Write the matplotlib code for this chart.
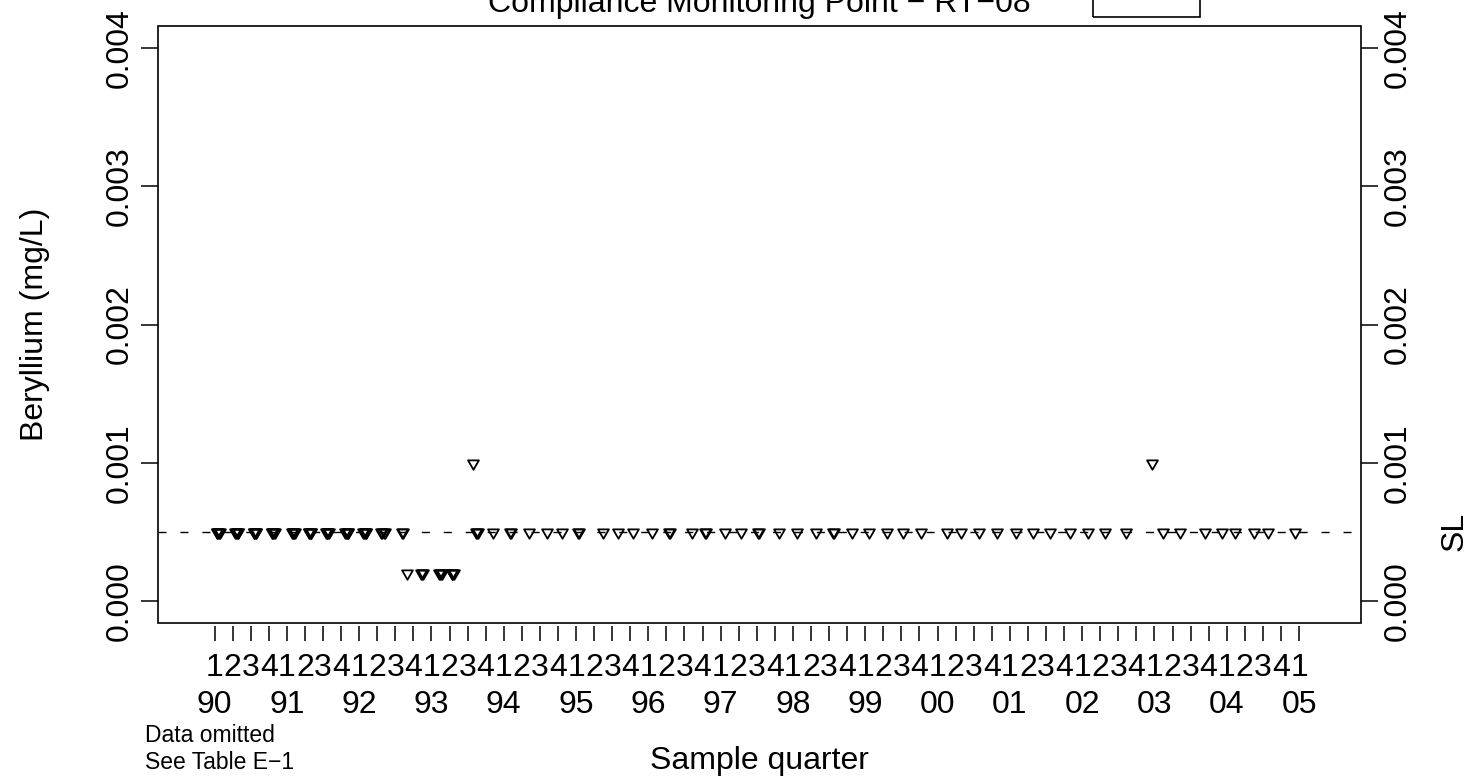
import matplotlib
matplotlib.use("Agg")
import matplotlib.pyplot as plt
from matplotlib.path import Path
from matplotlib.patches import Rectangle
from matplotlib.transforms import blended_transform_factory

plt.rcParams['font.family'] = ['Liberation Sans', 'DejaVu Sans']

# ---- data -------------------------------------------------------------
# sampling dates (decimal years) and beryllium results (mg/L)
dates_1990_1992 = [
    1990.03, 1990.04, 1990.05, 1990.06, 1990.07,
    1990.29, 1990.30, 1990.31, 1990.32, 1990.33,
    1990.54, 1990.55, 1990.56, 1990.57, 1990.58,
    1990.79, 1990.80, 1990.81, 1990.82, 1990.83,
    1991.07, 1991.08, 1991.09, 1991.10, 1991.11,
    1991.30, 1991.31, 1991.32, 1991.33, 1991.34,
    1991.54, 1991.55, 1991.56, 1991.57, 1991.58,
    1991.81, 1991.82, 1991.83, 1991.84, 1991.85,
    1992.06, 1992.07, 1992.08, 1992.09, 1992.10,
    1992.30, 1992.32, 1992.34, 1992.36,
    1992.59, 1992.60,
]
conc_1990_1992 = [0.0005] * 51

dates_low = [1992.66, 1992.86, 1992.87, 1992.88,
             1993.11, 1993.12, 1993.13, 1993.14,
             1993.28, 1993.29, 1993.30, 1993.31]
conc_low = [0.0002] * 12

dates_high = [1993.58, 2002.97]
conc_high = [0.001, 0.001]

dates_later = [
    1993.61, 1993.63, 1993.65, 1993.85, 1994.09, 1994.10, 1994.35, 1994.60,
    1994.81, 1995.03, 1995.04, 1995.37, 1995.58, 1995.79, 1996.05, 1996.29,
    1996.30, 1996.60, 1996.79, 1996.80, 1997.06, 1997.28, 1997.52, 1997.53,
    1997.81, 1998.06, 1998.32, 1998.56, 1998.57, 1998.82, 1999.05, 1999.30,
    1999.52, 1999.77, 2000.13, 2000.33, 2000.57, 2000.82, 2001.09, 2001.32,
    2001.56, 2001.83, 2002.08, 2002.32, 2002.61, 2003.12, 2003.36, 2003.70,
    2003.94, 2004.12, 2004.38, 2004.57, 2004.95,
]
conc_later = [0.0005] * 53

standard_limit = 0.0005

year_labels = ['90', '91', '92', '93', '94', '95', '96', '97',
               '98', '99', '00', '01', '02', '03', '04', '05']
quarter_labels = ['1', '2', '3', '4']
y_ticks = [0.000, 0.001, 0.002, 0.003, 0.004]
y_tick_labels = ['0.000', '0.001', '0.002', '0.003', '0.004']

# ---- figure -----------------------------------------------------------
W, H = 1472, 776
fig = plt.figure(figsize=(W / 100, H / 100), dpi=100)
fig.patch.set_facecolor('white')

left_px, right_px, top_px, bottom_px = 157.7, 1360.7, 26.0, 623.0
ax = fig.add_axes([left_px / W, 1 - bottom_px / H,
                   (right_px - left_px) / W, (bottom_px - top_px) / H])
ax.set_xlim(1989.214, 2005.853)
ax.set_ylim(-0.00016, 0.00416)

FS = 23
BLACK = 'black'

# open down-pointing triangle (centred on its circumcentre)
tri = Path([(-1.0, 0.577), (1.0, 0.577), (0.0, -1.155), (-1.0, 0.577)],
           [Path.MOVETO, Path.LINETO, Path.LINETO, Path.CLOSEPOLY])

ax.axhline(standard_limit, color=BLACK, lw=1.0, linestyle=(0, (5.8, 10)),
           zorder=1)

for d, c in [(dates_1990_1992, conc_1990_1992), (dates_low, conc_low),
             (dates_high, conc_high), (dates_later, conc_later)]:
    ax.plot(d, c, linestyle='none', marker=tri, markersize=9.0,
            markerfacecolor='none', markeredgecolor=BLACK,
            markeredgewidth=1.3, zorder=3)

# box around the plotting region
for s in ax.spines.values():
    s.set_color('none')
ax.spines['bottom'].set_position(('outward', 2.2))
ax.add_patch(Rectangle((0, 0), 1, 1, transform=ax.transAxes, fill=False,
                       lw=1.2, edgecolor=BLACK, clip_on=False, zorder=5))

# y axes on both sides
ax.set_yticks(y_ticks)
ax.tick_params(axis='y', which='both', left=True, right=True,
               labelleft=False, labelright=False, direction='out',
               length=12.5, width=1.1, color=BLACK)
px_to_fig_y = lambda y: 1 - y / H
tr_y = blended_transform_factory(fig.transFigure, ax.transData)
for v, lab in zip(y_ticks, y_tick_labels):
    fig.text(120 / W, 0, lab, transform=tr_y, rotation=90, ha='center',
             va='center', fontsize=FS, color=BLACK).set_y(v)
    fig.text(1398 / W, 0, lab, transform=tr_y, rotation=90, ha='center',
             va='center', fontsize=FS, color=BLACK).set_y(v)

# x axis: quarter ticks with quarter digits and year labels
quarter_pos = [1990 + 0.25 * i for i in range(61)]
ax.set_xticks(quarter_pos)
ax.tick_params(axis='x', which='both', bottom=True, top=False,
               labelbottom=False, direction='out', length=11,
               width=1.1, color=BLACK)
tr_x = blended_transform_factory(ax.transData, fig.transFigure)
for i, xq in enumerate(quarter_pos):
    ax.text(xq, px_to_fig_y(676), quarter_labels[i % 4], transform=tr_x,
            ha='center', va='baseline', fontsize=FS, color=BLACK)
for i, lab in enumerate(year_labels):
    ax.text(1990 + i, px_to_fig_y(713), lab, transform=tr_x,
            ha='center', va='baseline', fontsize=FS, color=BLACK)

# axis titles and notes
fig.text(35 / W, px_to_fig_y(324.5), 'Beryllium (mg/L)', rotation=90,
         ha='center', va='center', fontsize=FS, color=BLACK)
fig.text(1455 / W, 0, 'SL', transform=tr_y, rotation=90, ha='center',
         va='center', fontsize=FS, color=BLACK).set_y(standard_limit)
fig.text(759 / W, px_to_fig_y(769), 'Sample quarter', ha='center',
         va='baseline', fontsize=FS, color=BLACK)
fig.text(145 / W, px_to_fig_y(742), 'Data omitted', ha='left',
         va='baseline', fontsize=16.5, color=BLACK)
fig.text(145 / W, px_to_fig_y(769), 'See Table E\u22121', ha='left',
         va='baseline', fontsize=16.5, color=BLACK)

# main title (partly above the page edge) and legend frame
fig.text(759 / W, px_to_fig_y(12), 'Compliance Monitoring Point \u2212 RT\u221208',
         ha='center', va='baseline', fontsize=FS, color=BLACK)
fig.add_artist(Rectangle((1093 / W, px_to_fig_y(17)), (1200 - 1093) / W,
                         40 / H, transform=fig.transFigure, fill=False,
                         lw=1.2, edgecolor=BLACK))

fig.savefig('out.png', dpi=100, facecolor='white')
